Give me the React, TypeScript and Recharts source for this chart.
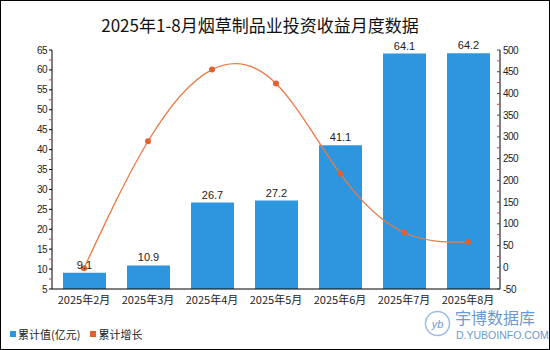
import React from 'react';
import { ComposedChart, Bar, Line, XAxis, YAxis, LabelList, Legend } from 'recharts';

const months = ['2025年2月', '2025年3月', '2025年4月', '2025年5月', '2025年6月', '2025年7月', '2025年8月'];
const cumulative = [9.1, 10.9, 26.7, 27.2, 41.1, 64.1, 64.2];
const growth = [-2, 290, 455, 423, 216, 80, 58];

const leftTicks = [5, 7.5, 10, 12.5, 15, 17.5, 20, 22.5, 25, 27.5, 30, 32.5, 35, 37.5, 40, 42.5, 45, 47.5, 50, 52.5, 55, 57.5, 60, 62.5, 65];
const rightTicks = [-50, -25, 0, 25, 50, 75, 100, 125, 150, 175, 200, 225, 250, 275, 300, 325, 350, 375, 400, 425, 450, 475, 500];

const data = months.map((m, i) => ({ month: m, value: cumulative[i], growth: growth[i] }));

const BAR = '#2e96df';
const LINE = '#eb7a45';
const DOT = '#e2612c';
const TICK_FONT = '"Liberation Sans", Arial, sans-serif';
const CJK = '"Noto Sans CJK SC", sans-serif';

const LeftTick = (props: any) => {
  const { x, y, payload } = props;
  const major = payload.value % 5 === 0;
  return (
    <g>
      <line x1={x + 2} x2={x + 5} y1={y} y2={y} stroke={major ? '#000' : '#e53935'} />
      {major && (
        <text x={x} y={y} dy={3.5} textAnchor="end" fontSize={10} fill="#222" fontFamily={TICK_FONT} letterSpacing={-0.5}>
          {payload.value}
        </text>
      )}
    </g>
  );
};

const RightTick = (props: any) => {
  const { x, y, payload } = props;
  const major = payload.value % 50 === 0;
  return (
    <g>
      <line x1={x - 6} x2={x - 3} y1={y} y2={y} stroke={major ? '#444' : '#e53935'} />
      {major && (
        <text x={x} y={y} dy={3.5} textAnchor="start" fontSize={10} fill="#222" fontFamily={TICK_FONT} letterSpacing={-0.5}>
          {payload.value}
        </text>
      )}
    </g>
  );
};

const LegendContent = () => (
  <div style={{ display: 'flex', alignItems: 'center', fontFamily: CJK, fontSize: 11, color: '#222' }}>
    <span style={{ width: 6, height: 6, background: BAR, display: 'inline-block', marginRight: 2 }} />
    <span style={{ marginRight: 10 }}>累计值(亿元)</span>
    <span style={{ width: 6, height: 6, background: DOT, display: 'inline-block', marginRight: 2 }} />
    <span>累计增长</span>
  </div>
);

export default function App() {
  return (
    <div style={{ position: 'absolute', left: 0, top: 0, width: 550, height: 350, background: '#fff' }}>
      <div style={{ position: 'absolute', left: 0, top: 0, width: 548, height: 348, border: '1px solid #000' }} />
      <div style={{ position: 'absolute', left: 0, width: 520, top: 12, textAlign: 'center', fontFamily: CJK, fontSize: 17, color: '#111' }}>
        2025年1-8月烟草制品业投资收益月度数据
      </div>
      <ComposedChart width={550} height={350} data={data} margin={{ top: 50, right: 0, bottom: 27, left: 0 }}>
        <XAxis
          dataKey="month"
          tickLine={false}
          axisLine={{ stroke: '#000' }}
          tick={{ fontSize: 11, fill: '#222', fontFamily: CJK }}
          tickMargin={1}
          interval={0}
          height={20}
        />
        <YAxis
          yAxisId="left"
          domain={[5, 65]}
          ticks={leftTicks}
          interval={0}
          width={52}
          tickSize={3}
          tickMargin={2}
          tickLine={false}
          axisLine={{ stroke: '#000' }}
          tick={<LeftTick />}
        />
        <YAxis
          yAxisId="right"
          orientation="right"
          domain={[-50, 500]}
          ticks={rightTicks}
          interval={0}
          width={50}
          tickSize={3}
          tickMargin={0}
          tickLine={false}
          axisLine={{ stroke: '#000' }}
          tick={<RightTick />}
        />
        <Legend verticalAlign="bottom" align="left" content={<LegendContent />} wrapperStyle={{ left: 10, bottom: 10, width: 200, height: 14 }} />
        <Bar yAxisId="left" dataKey="value" fill={BAR} barSize={43} isAnimationActive={false}>
          <LabelList dataKey="value" position="top" offset={4} fontSize={11} fill="#222" fontFamily={TICK_FONT} />
        </Bar>
        <Line
          yAxisId="right"
          dataKey="growth"
          type="natural"
          stroke={LINE}
          strokeWidth={1.3}
          dot={{ r: 3, fill: DOT, stroke: 'none' }}
          isAnimationActive={false}
        />
      </ComposedChart>
      {/* watermark */}
      <svg style={{ position: 'absolute', left: 424, top: 310 }} width={27} height={27}>
        <circle cx={13.5} cy={13.5} r={12} fill="none" stroke="#9dbde3" strokeWidth={1.5} />
        <text x={13.5} y={18} textAnchor="middle" fontSize={11} fontStyle="italic" fill="#6a9ad2" fontFamily={TICK_FONT}>yb</text>
      </svg>
      <div style={{ position: 'absolute', left: 455, top: 309, fontFamily: CJK, fontSize: 16, lineHeight: '16px', color: '#6a9ad2' }}>
        宇博数据库
      </div>
      <div style={{ position: 'absolute', left: 456, top: 329, fontFamily: TICK_FONT, fontSize: 10.5, lineHeight: '12px', color: '#6a9ad2' }}>
        D.YUBOINFO.COM
      </div>
    </div>
  );
}
